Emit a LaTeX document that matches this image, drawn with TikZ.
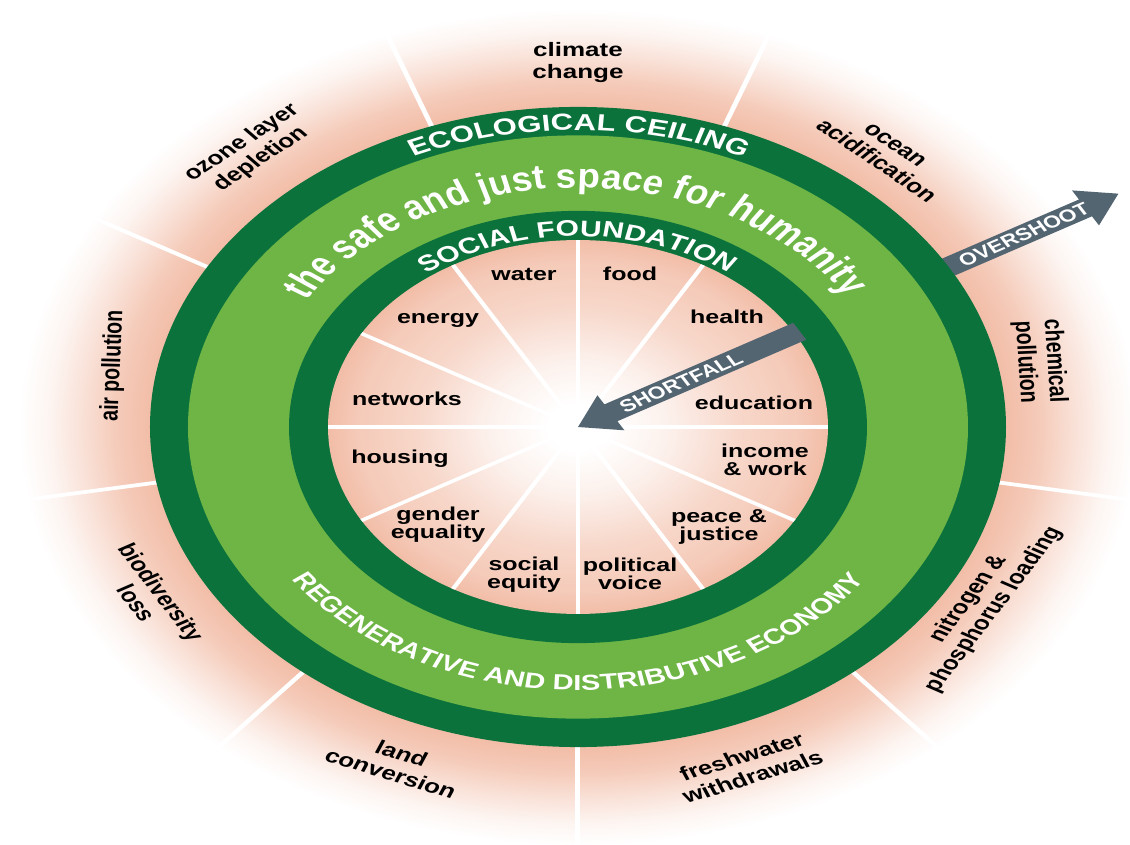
\documentclass[tikz,border=0pt]{standalone}
\usepackage{fontspec}
\setmainfont{Liberation Sans}
\newfontfamily\ringfont[FakeStretch=0.8]{Liberation Sans}
\usetikzlibrary{decorations.text}
\definecolor{dkgreen}{RGB}{11,114,60}
\definecolor{ltgreen}{RGB}{110,181,69}
\definecolor{pk}{RGB}{242,189,167}
\definecolor{slate}{RGB}{84,101,114}
\colorlet{pkA}{pk!80!white}
\colorlet{pkB}{pk!45!white}
\colorlet{pkC}{pk!15!white}
\colorlet{pkD}{pk!60!white}
\colorlet{pkE}{pk!22!white}
\pgfdeclareradialshading{outerfade}{\pgfpoint{0bp}{0bp}}{color(0bp)=(pk); color(17.8bp)=(pk); color(19.2bp)=(pkA); color(20.7bp)=(pkB); color(22.1bp)=(pkC); color(23.3bp)=(white); color(50bp)=(white)}
\pgfdeclareradialshading{innerfade}{\pgfpoint{0bp}{0bp}}{color(0bp)=(white); color(3bp)=(white); color(9bp)=(pkE); color(16bp)=(pkD); color(22bp)=(pkA); color(25bp)=(pk); color(50bp)=(pk)}
\tikzset{
 inlbl/.style={font=\bfseries\fontsize{25}{24}\selectfont, align=center, inner sep=0pt},
 outlbl/.style={font=\bfseries\fontsize{26}{29}\selectfont, align=center, inner sep=0pt},
 arrowtxt/.style={font=\bfseries\fontsize{23}{23}\selectfont, text=white, inner sep=0pt},
 wline/.style={white, line width=4.5pt},
 oline/.style={white, line width=5pt},
}
\begin{document}
\begin{tikzpicture}[x=1pt,y=1pt]
\useasboundingbox (-578,-418) rectangle (552,427);
\fill[white] (-578,-418) rectangle (552,427);
\begin{scope}[overlay, transform canvas={yscale=0.7478}]
 % background fade
 \shade[shading=outerfade] (0,0) circle[radius=600];
 \foreach \a in {30,70,...,350} \draw[oline] (\a:428) -- (\a:600);
 % overshoot arrow (under rings)
 \begin{scope}[rotate=30]
  \fill[slate] (410,13) -- (586,13) -- (586,27) -- (624,0) -- (586,-27) -- (586,-13) -- (410,-13) -- cycle;
 \end{scope}
 % rings
 \fill[dkgreen] (0,0) circle[radius=428];
 \fill[ltgreen] (0,0) circle[radius=390];
 \fill[dkgreen] (0,0) circle[radius=289];
 \shade[shading=innerfade] (0,0) circle[radius=250];
 \foreach \a in {0,30,...,330} \draw[wline] (0,0) -- (\a:250);
 % shortfall arrow
 \begin{scope}[rotate=30]
  \fill[slate] (0,0) -- (38,27) -- (38,13) -- (256,13) -- (256,-13) -- (38,-13) -- (38,-27) -- cycle;
 \end{scope}
 \node[arrowtxt, rotate=30] (sf) at (30:119) {SHORTFALL};
 \node[arrowtxt, rotate=30] (os) at (30:515) {OVERSHOOT};
 % ring texts
 \path[decorate, decoration={text along path, text align=fit to path,
   text={|\color{white}\bfseries\fontsize{31}{31}\selectfont|ECOLOGICAL CEILING}}]
   (114.5:397) arc[start angle=114.5, end angle=65.5, radius=397];
 \path[decorate, decoration={text along path, text align=fit to path,
   text={|\color{white}\ringfont\bfseries\fontsize{46}{46}\selectfont|the safe and just space for humanity}}]
   (148:320) arc[start angle=148, end angle=33, radius=320];
 \path[decorate, decoration={text along path, text align=fit to path,
   text={|\color{white}\bfseries\fontsize{30}{30}\selectfont|SOCIAL FOUNDATION}}]
   (126.5:255) arc[start angle=126.5, end angle=54, radius=255];
 \path[decorate, decoration={text along path, text align=fit to path,
   text={|\color{white}\bfseries\fontsize{29}{29}\selectfont|REGENERATIVE AND DISTRIBUTIVE ECONOMY}}]
   (215.5:352) arc[start angle=215.5, end angle=324.5, radius=352];
 % inner labels
 \node[inlbl] (water) at (-54,204) {water};
 \node[inlbl] (food) at (52,205) {food};
 \node[inlbl] (energy) at (-140,142) {energy};
 \node[inlbl] (health) at (149,147) {health};
 \node[inlbl] (networks) at (-171,38) {networks};
 \node[inlbl] (education) at (176,32) {education};
 \node[inlbl] (housing) at (-178,-42) {housing};
 \node[inlbl] (income) at (187,-44) {income\\\& work};
 \node[inlbl] (gender) at (-140,-131) {gender\\equality};
 \node[inlbl] (peace) at (141,-134) {peace \&\\justice};
 \node[inlbl] (socialeq) at (-54,-197) {social\\equity};
 \node[inlbl] (political) at (52,-196) {political\\voice};
 % outer labels
 \node[outlbl] (climate) at (90:487) {climate\\change};
 \node[outlbl, rotate=-42] (ocean) at (50:478) {ocean\\acidification};
 \node[outlbl, rotate=-87] (chemical) at (10.7:470) {chemical\\pollution};
 \node[outlbl, rotate=60] (nitrogen) at (403,-237) {nitrogen \&\\phosphorus loading};
 \node[outlbl, rotate=22] (freshwater) at (169,-454) {freshwater\\withdrawals};
 \node[outlbl, rotate=-22] (land) at (248:485) {land\\conversion};
 \node[outlbl, rotate=-60] (biodiv) at (208:486) {biodiversity\\loss};
 \node[outlbl, rotate=88] (air) at (170:472) {air pollution};
 \node[outlbl, rotate=41] (ozone) at (131.5:493) {ozone layer\\depletion};
\end{scope}
\end{tikzpicture}
\end{document}
